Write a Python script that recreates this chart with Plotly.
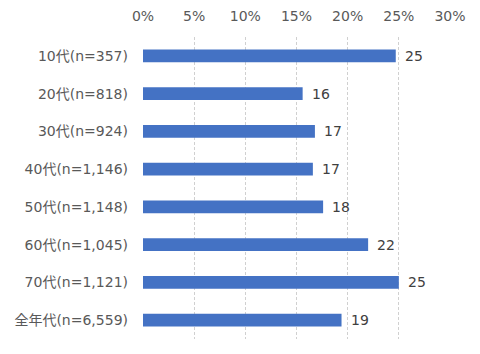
import plotly.graph_objects as go

categories = ["10代(n=357)", "20代(n=818)", "30代(n=924)", "40代(n=1,146)",
              "50代(n=1,148)", "60代(n=1,045)", "70代(n=1,121)", "全年代(n=6,559)"]
values = [24.7, 15.6, 16.8, 16.6, 17.6, 22.0, 25.0, 19.4]
tick_vals = [0, 5, 10, 15, 20, 25, 30]
tick_text = ["0%", "5%", "10%", "15%", "20%", "25%", "30%"]

font_family = "DejaVu Sans, Noto Sans CJK JP, sans-serif"

fig = go.Figure(go.Bar(
    x=values, y=categories, orientation="h",
    marker=dict(color="#4472C4", line=dict(width=0)),
    width=0.34,
    cliponaxis=False,
))

for v, c in zip(values, categories):
    fig.add_annotation(
        x=v, y=c, text=f"{round(v):d}", showarrow=False,
        xanchor="left", yanchor="middle", xshift=7, yshift=0,
        font=dict(family=font_family, size=14, color="#404040"),
    )

fig.update_layout(
    width=480, height=354,
    margin=dict(l=143, r=30, t=37, b=15),
    paper_bgcolor="white", plot_bgcolor="white",
    showlegend=False,
    font=dict(family=font_family, size=14, color="#595959"),
)
fig.update_xaxes(
    side="top", range=[0, 30], tickvals=tick_vals, ticktext=tick_text,
    showgrid=True, gridcolor="#d0d0d0", griddash="3px,2px", gridwidth=1,
    zeroline=False, showline=False, ticks="", ticklabelstandoff=12,
    automargin=False,
    tickfont=dict(family=font_family, size=14, color="#595959"),
)
fig.update_yaxes(
    autorange="reversed", showgrid=False, zeroline=False, showline=False,
    ticks="", ticklabelstandoff=14, automargin=False,
    tickfont=dict(family=font_family, size=14, color="#595959"),
)

fig.write_html("out.html")
